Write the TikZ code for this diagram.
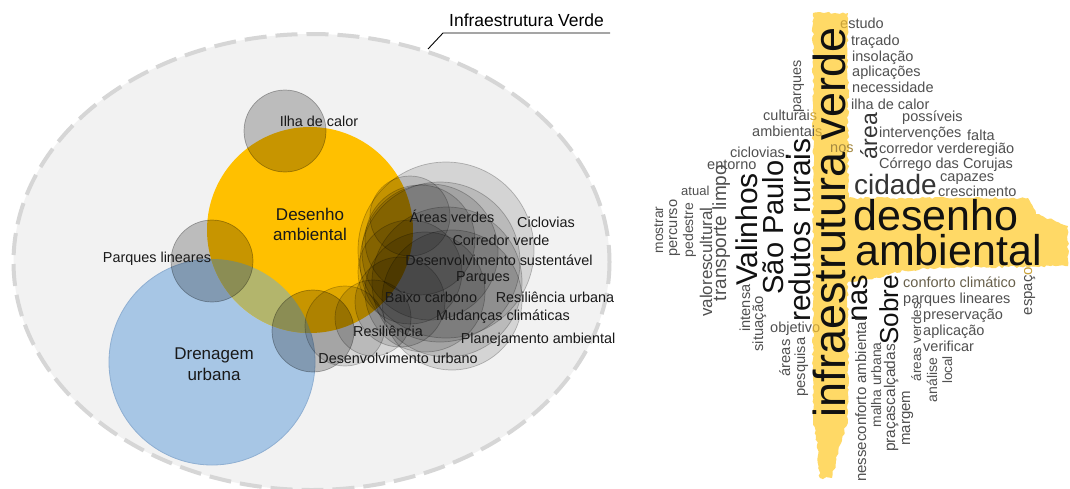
\documentclass[tikz,border=0pt]{standalone}
\usepackage{fontspec}
\setmainfont{Liberation Sans}
\usetikzlibrary{decorations.pathmorphing}
\definecolor{ygold}{HTML}{FFC000}
\definecolor{lblue}{HTML}{A7C6E5}
\definecolor{lblueedge}{HTML}{8FAFD2}
\definecolor{lensc}{HTML}{B3B56C}
\definecolor{bgell}{HTML}{F2F2F2}
\definecolor{dashc}{HTML}{D6D6D6}
\definecolor{hilite}{HTML}{FFD966}
\definecolor{wgray}{HTML}{505050}
\definecolor{wdark}{HTML}{111111}
\definecolor{wgold}{HTML}{C9A23A}
\newcommand{\fsz}[1]{\fontsize{#1}{#1}\selectfont}
\begin{document}
\begin{tikzpicture}[x=1pt,y=-1pt,
  lbl/.style={font=\fsz{14.4}, text=black!90, inner sep=0pt, anchor=base},
  biglbl/.style={font=\fsz{17}, text=black!90, inner sep=0pt, anchor=base},
  gc/.style={fill=black, fill opacity=0.12, draw=black, draw opacity=0.24, line width=0.7pt},
  gs/.style={fill=black, fill opacity=0.22, draw=black, draw opacity=0.3, line width=0.7pt},
  wh/.style={font=\fsz{#1}, text=wgray, inner sep=0pt, anchor=base west},
  wh/.default=14.5,
  wv/.style={font=\fsz{#1}, text=wgray, inner sep=0pt, anchor=base, rotate=90},
  wv/.default=14.5,
]
\useasboundingbox (0,0) rectangle (1070,488);
\fill[white] (0,0) rectangle (1070,488);

% ---------------- Venn diagram ----------------
\fill[bgell] (311.5,262) ellipse [x radius=298, y radius=228];
\draw[dashc, line width=4pt, dash pattern=on 22pt off 9pt] (311.5,262) ellipse [x radius=298, y radius=228];

\fill[lblue] (212,362) circle (103);
\draw[lblueedge, line width=0.8pt] (212,362) circle (103);
\fill[ygold] (310,230) circle (103);
\begin{scope}
  \clip (212,362) circle (103);
  \fill[lensc] (310,230) circle (103);
\end{scope}

\path[gs] (285,131) circle (41);
\path[gs] (212,261) circle (41);
\path[gs] (313,331) circle (41);

\foreach \cx/\cy/\r in {446/250/88, 440/262/80, 430/252/68, 410/216/40, 447/282/75,
  452/300/70, 425/292/60, 410/272/52, 400/302/45, 373/318/38, 345/326/40, 420/240/55}
  \path[gc] (\cx,\cy) circle (\r);

\node[biglbl] (desA) at (310,220) {Desenho};
\node[biglbl] (desB) at (310,240.5) {ambiental};
\node[biglbl] (drenA) at (214,359) {Drenagem};
\node[biglbl] (drenB) at (214,380) {urbana};

\node[lbl] (ilha) at (319,126) {Ilha de calor};
\node[lbl] (plin) at (157,262) {Parques lineares};
\node[lbl] (areas) at (452,222) {Áreas verdes};
\node[lbl] (cicl) at (546,227) {Ciclovias};
\node[lbl] (corr) at (501,245) {Corredor verde};
\node[lbl] (dsus) at (499,265) {Desenvolvimento sustentável};
\node[lbl] (parq) at (483,281) {Parques};
\node[lbl] (baixo) at (431,302) {Baixo carbono};
\node[lbl] (resu) at (555,302) {Resiliência urbana};
\node[lbl] (mud) at (503,320) {Mudanças climáticas};
\node[lbl] (resi) at (388,336) {Resiliência};
\node[lbl] (plan) at (538,343) {Planejamento ambiental};
\node[lbl] (durb) at (398,363) {Desenvolvimento urbano};

\node[font=\fsz{17.5}, inner sep=0pt, anchor=base] (iv) at (526.5,26) {Infraestrutura Verde};
\coordinate (ellpt) at (428,49);
\coordinate (elbow) at (443,33);
\coordinate (lineend) at (610,33);
\draw[black, line width=0.9pt] (ellpt) -- (elbow) -- (lineend);

% ---------------- Word cloud ----------------
\fill[hilite, decorate, decoration={random steps, segment length=3pt, amplitude=1.2pt}]
  (813,13) -- (848,13) -- (848,198) -- (1028,198) -- (1036,214) -- (1068,226) -- (1068,266)
  -- (930,268) -- (895,272) -- (880,278) -- (848,282) -- (848,420) -- (840,445) -- (832,478)
  -- (820,478) -- (817,445) -- (813,420) -- cycle;

% horizontal words
\node[wh] (w1) at (840,28.5) {\textcolor{wgold}{e}studo};
\node[wh] (w2) at (851,45) {traçado};
\node[wh] (w3) at (852,61) {insolação};
\node[wh] (w4) at (852,76.5) {aplicações};
\node[wh] (w5) at (852,92.5) {necessidade};
\node[wh] (w6) at (851,109) {ilha de calor};
\node[wh] (w7) at (902,121) {possíveis};
\node[wh] (w8) at (763,120) {culturai\textcolor{wgold}{s}};
\node[wh] (w9) at (752,136) {ambientai\textcolor{wgold}{s}};
\node[wh] (w10) at (879,137) {intervenções};
\node[wh] (w11) at (967,140) {falta};
\node[wh, text=wgold!70!wgray] (w12) at (830,152) {nos};
\node[wh] (w13) at (730,157) {ciclovias};
\node[wh=30, text=wdark] (w14) at (783,158) {.};
\node[wh] (w15) at (879,153) {corredor verde};
\node[wh] (w16) at (w15.base east) {região};
\node[wh] (w17) at (707,169) {entorno};
\node[wh] (w18) at (879,168) {Córrego das Corujas};
\node[wh] (w19) at (940,181.5) {capazes};
\node[wh] (w20) at (938,196) {crescimento};
\node[wh=28, text=wdark!85] (w21) at (854,194.5) {cidade};
\node[wh=13] (w22) at (681,195) {atual};
\node[wh=43, text=wdark] (w23) at (853,230) {desenho};
\node[wh=43, text=wdark] (w24) at (855,265.5) {ambiental};
\node[wh, text=wgray!80!wgold] (w25) at (903,287) {conforto climático};
\node[wh] (w26) at (903,303) {parques lineares};
\node[wh] (w27) at (923,319) {preservação};
\node[wh] (w28) at (923,335) {aplicação};
\node[wh] (w29) at (923,351) {verificar};
\node[wh] (w30) at (770,332) {objetiv\textcolor{wgold}{o}};

% vertical words
\node[wv=44.9, text=wdark] (v1) at (845,222.5) {infraestrutura verde};
\node[wv=14.4] (v2) at (801,86) {parques};
\node[wv=23, text=wdark!85] (v3) at (877,136) {área};
\node[wv=30, text=wdark] (v4) at (757,229.5) {Valinhos};
\node[wv=29, text=wdark] (v5) at (783,227.5) {São Paulo};
\node[wv=30, text=wdark] (v6) at (810,230) {redutos rurais};
\node[wv=13.8] (v7) at (663,230) {mostrar};
\node[wv=14.6] (v8) at (677,228) {percurso};
\node[wv=14] (v9) at (693,230) {pedestre};
\node[wv=17] (v10) at (712,262) {valorescultural};
\node[wv=19] (v11) at (726,233) {transporte limpo};
\node[wv=14.6] (v12) at (750,308) {intensa};
\node[wv=14.8] (v13) at (763,324) {situação};
\node[wv=14.8] (v14) at (790,358) {áreas};
\node[wv=14.7] (v15) at (805,367) {pesquisa};
\node[wv=29, text=wdark] (v16) at (867,298) {nas};
\node[wv=26, text=wdark] (v17) at (898,310) {Sobre};
\node[wv=15] (v18) at (866,400) {nesseconforto ambiental};
\node[wv=13.9] (v19) at (881,385) {malha urbana};
\node[wv=15.5] (v20) at (895,398) {praçascalçadas};
\node[wv=15] (v21) at (910,418) {margem};
\node[wv=13.5] (v22) at (921,342) {áreas verdes};
\node[wv=14] (v23) at (937,380) {análise};
\node[wv=13.5] (v24) at (952,370) {local};
\node[wv=14.9] (v25) at (1032,291) {espaç\textcolor{wgold}{o}};
\end{tikzpicture}
\end{document}
